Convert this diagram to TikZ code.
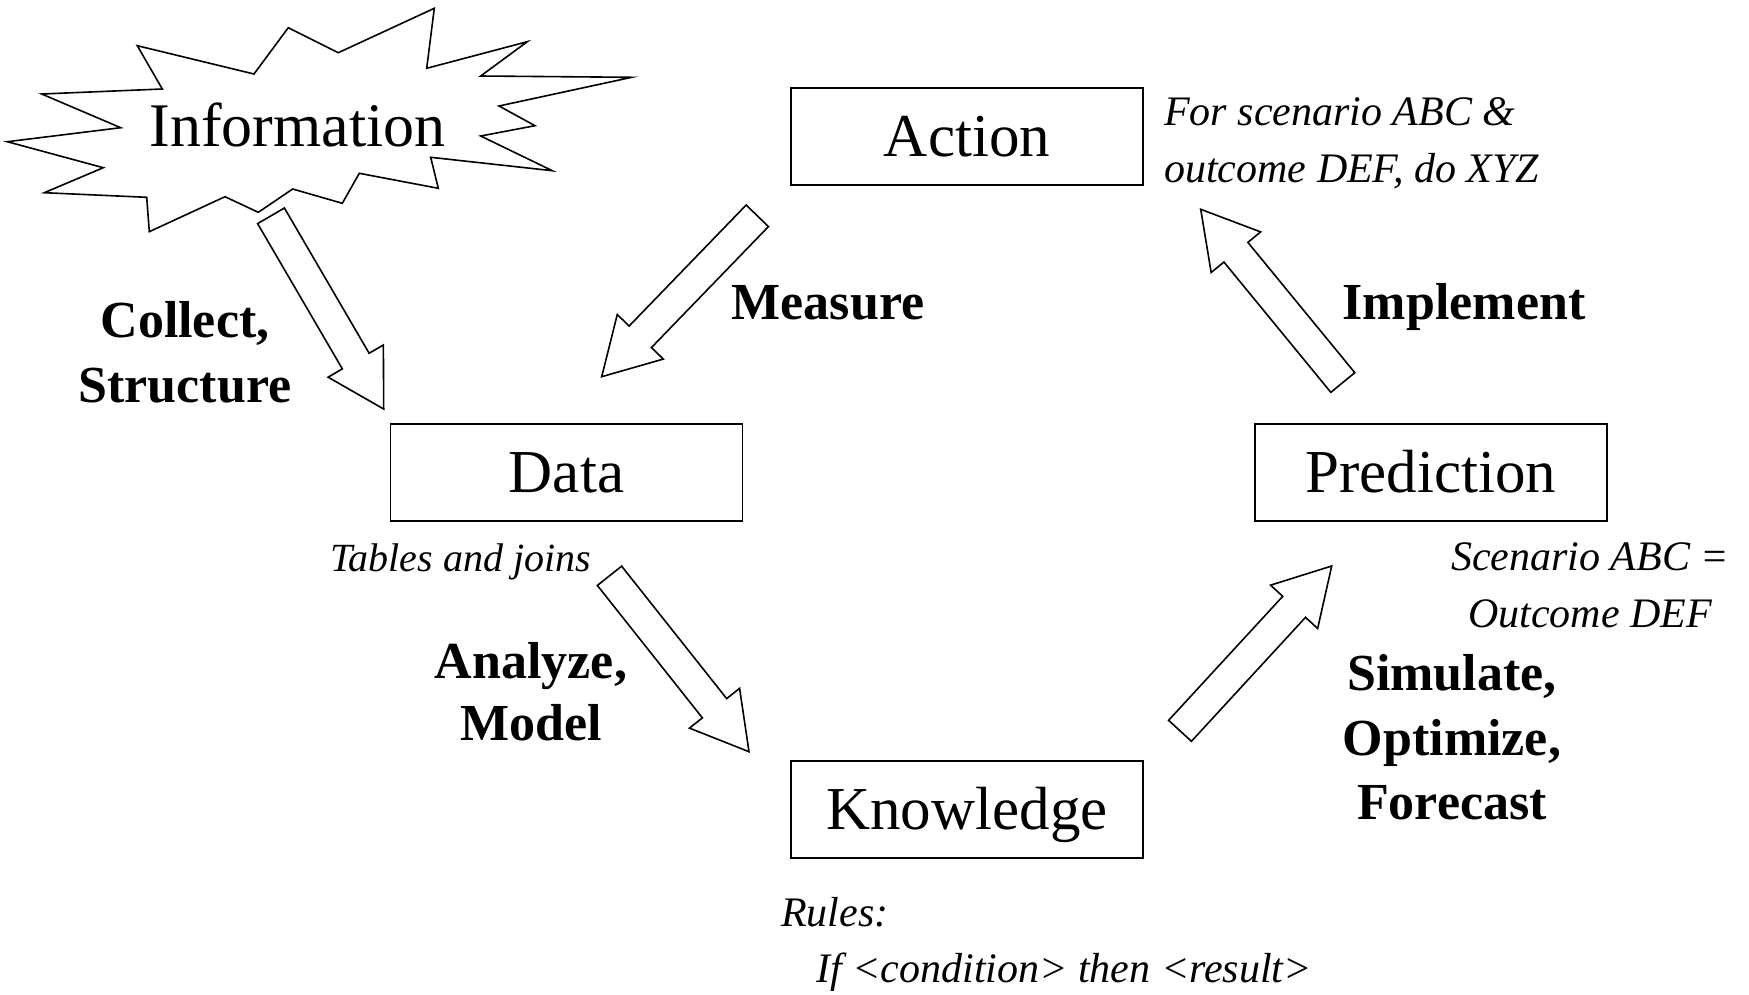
\documentclass[tikz,border=0pt]{standalone}
\usepackage{fontspec}
\setmainfont{Liberation Serif}
\usetikzlibrary{calc}

\newcommand\fatarrow[2]{%
  \coordinate (#1-hb) at ($(#2)!55.5pt!(#1)$);
  \draw[blockarrow] ($(#1)!15.5pt!90:(#2)$) -- ($(#1-hb)!15.5pt!90:(#2)$)
    -- ($(#1-hb)!32pt!90:(#2)$) -- (#2) -- ($(#1-hb)!32pt!-90:(#2)$)
    -- ($(#1-hb)!15.5pt!-90:(#2)$) -- ($(#1)!15.5pt!-90:(#2)$) -- cycle;
}

\tikzset{
  box/.style={draw, line width=1.8pt, minimum width=352pt, minimum height=97pt,
    inner sep=0pt, font=\fontsize{61}{64}\selectfont, text height=40pt, text depth=0pt},
  infotext/.style={inner sep=0pt, font=\fontsize{62}{64}\selectfont},
  note/.style={inner sep=0pt, font=\fontsize{42}{45}\selectfont\itshape},
  smallnote/.style={note, font=\fontsize{40}{45}\selectfont\itshape},
  lab/.style={inner sep=0pt, anchor=base, font=\fontsize{52}{60}\selectfont\bfseries},
  blockarrow/.style={draw, line width=1.6pt, fill=white, line join=miter},
  burst/.style={draw, line width=1.6pt, line join=miter, fill=white},
}

\begin{document}
\begin{tikzpicture}[x=1pt,y=-1pt]
\useasboundingbox (0,0) rectangle (1749,994);

% Information starburst
\draw[burst] (137.3,45.7) -- (254,74) -- (288.3,27.7) -- (338.3,52.7) -- (434.3,8.3)
  -- (426.7,68.3) -- (527.3,41.7) -- (480.7,76) -- (631.7,77.3) -- (499,106)
  -- (535,125.7) -- (480.7,136) -- (552.3,170.7) -- (430.7,157.3) -- (438.3,188.3)
  -- (359.3,173.3) -- (342.3,203.3) -- (292.7,189) -- (258.3,212.3) -- (225,196.7)
  -- (149.3,231.7) -- (146.7,197.3) -- (44.3,192.7) -- (103.3,167.7) -- (7.3,141.7)
  -- (120.7,127.7) -- (41.7,94) -- (162.3,89) -- cycle;
\node[infotext, anchor=base] (information) at (297.5,146) {Information};

% boxes
\node[box] (action) at (967,136.5) {Action};
\node[box] (data) at (566.5,472.5) {Data};
\node[box] (prediction) at (1431,472.5) {Prediction};
\node[box] (knowledge) at (967,809.5) {Knowledge};

% annotations
\node[note, anchor=base west] (actnote1) at (1164,125) {For scenario ABC \&};
\node[note, anchor=base west] (actnote2) at (1164,182) {outcome DEF, do XYZ};
\node[smallnote, anchor=base west] (datanote) at (330,571) {Tables and joins};
\node[note, anchor=base] (prednote1) at (1590,570) {Scenario ABC =};
\node[note, anchor=base] (prednote2) at (1590,627) {Outcome DEF};
\node[note, anchor=base west] (knownote1) at (781,926) {Rules:};
\node[note, anchor=base west] (knownote2) at (816,982) {If \textless condition\textgreater{} then \textless result\textgreater};

% block arrows
\coordinate (collect) at (271,215.8);    \coordinate (collect-tip) at (383.7,409);
\coordinate (measure) at (757.3,215.8);  \coordinate (measure-tip) at (601.7,376.7);
\coordinate (implement) at (1342.8,382.5); \coordinate (implement-tip) at (1200.7,209.3);
\coordinate (analyze) at (609.5,575.8);  \coordinate (analyze-tip) at (749,751.7);
\coordinate (simulate) at (1180,730.8);  \coordinate (simulate-tip) at (1331.7,566);
\fatarrow{collect}{collect-tip}
\fatarrow{measure}{measure-tip}
\fatarrow{implement}{implement-tip}
\fatarrow{analyze}{analyze-tip}
\fatarrow{simulate}{simulate-tip}

% bold labels
\node[lab] (lmeasure) at (828,319) {Measure};
\node[lab] (limplement) at (1464,319) {Implement};
\node[lab] (lcollect1) at (185,337) {Collect,};
\node[lab] (lcollect2) at (185,402) {Structure};
\node[lab] (lanalyze1) at (531,678) {Analyze,};
\node[lab] (lanalyze2) at (531,740) {Model};
\node[lab] (lsim1) at (1452,690) {Simulate,};
\node[lab] (lsim2) at (1452,755) {Optimize,};
\node[lab] (lsim3) at (1452,819) {Forecast};
\end{tikzpicture}
\end{document}
